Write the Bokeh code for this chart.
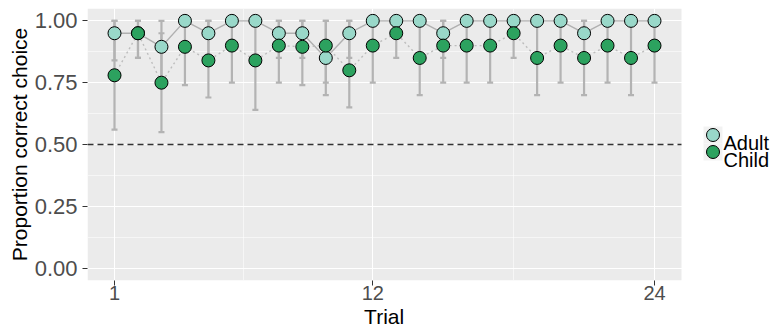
from bokeh.plotting import figure
from bokeh.models import (Range1d, FixedTicker, ColumnDataSource, NumeralTickFormatter,
                          BoxAnnotation, Title)
from bokeh.core.properties import value
from bokeh.embed import file_html
from bokeh.resources import INLINE

# ---- data ----
trials = [1, 2, 3, 4, 5, 6, 7, 8, 9, 10, 11, 12, 13, 14, 15, 16, 17, 18, 19, 20, 21, 22, 23, 24]
adult_mean = [0.95, 0.95, 0.895, 1.0, 0.95, 1.0, 1.0, 0.95, 0.95, 0.85, 0.95, 1.0,
              1.0, 1.0, 0.95, 1.0, 1.0, 1.0, 1.0, 1.0, 0.95, 1.0, 1.0, 1.0]
adult_lo = [0.84, 0.85, 0.74, 1.0, 0.85, 1.0, 1.0, 0.85, 0.85, 0.70, 0.85, 1.0,
            1.0, 1.0, 0.85, 1.0, 1.0, 1.0, 1.0, 1.0, 0.85, 1.0, 1.0, 1.0]
adult_hi = [1.0, 1.0, 1.0, 1.0, 1.0, 1.0, 1.0, 1.0, 1.0, 1.0, 1.0, 1.0,
            1.0, 1.0, 1.0, 1.0, 1.0, 1.0, 1.0, 1.0, 1.0, 1.0, 1.0, 1.0]
child_mean = [0.78, 0.95, 0.75, 0.895, 0.84, 0.90, 0.84, 0.90, 0.895, 0.90, 0.80, 0.90,
              0.95, 0.85, 0.90, 0.90, 0.90, 0.95, 0.85, 0.90, 0.85, 0.90, 0.85, 0.90]
child_lo = [0.56, 0.85, 0.55, 0.74, 0.69, 0.75, 0.64, 0.75, 0.74, 0.75, 0.65, 0.75,
            0.85, 0.70, 0.75, 0.75, 0.75, 0.85, 0.70, 0.75, 0.70, 0.75, 0.70, 0.75]
child_hi = [1.0, 1.0, 0.95, 1.0, 1.0, 1.0, 1.0, 1.0, 1.0, 1.0, 1.0, 1.0,
            1.0, 1.0, 1.0, 1.0, 1.0, 1.0, 1.0, 1.0, 1.0, 1.0, 1.0, 1.0]
x_ticks = [1, 12, 24]
x_minor = [6.5, 18]
y_ticks = [0.0, 0.25, 0.5, 0.75, 1.0]
y_minor = [0.125, 0.375, 0.625, 0.875]
chance = 0.5
group_labels = ["Adult", "Child"]
group_colors = ["#99d8c9", "#2ca25f"]
x_title = "Trial"
y_title = "Proportion correct choice"

FONT = "Liberation Sans"

# ---- layout (pixels) ----
W, H = 778, 327
FX0, PX1, FY0, FY1 = 87, 681, 8, 280        # frame left, panel right, frame top, frame bottom
x_lo, x_hi = -0.15, 25.15                    # panel data extent (ggplot-like expansion)
y_lo, y_hi = -0.05, 1.05
x_end = x_hi + (W - PX1) * (x_hi - x_lo) / (PX1 - FX0)   # frame extends right to hold the legend


def px_to_x(px):
    return x_lo + (px - FX0) * (x_hi - x_lo) / (PX1 - FX0)


def py_to_y(py):
    return y_hi - (py - FY0) * (y_hi - y_lo) / (FY1 - FY0)


p = figure(width=W, height=H,
           x_range=Range1d(x_lo, x_end), y_range=Range1d(y_lo, y_hi),
           output_backend="svg", toolbar_location=None,
           min_border_left=FX0, min_border_right=0, min_border_top=FY0,
           min_border_bottom=H - FY1)
p.background_fill_color = "white"
p.border_fill_color = "white"
p.outline_line_color = None

# grey panel
p.add_layout(BoxAnnotation(right=x_hi, fill_color="#ebebeb", fill_alpha=1,
                           line_color=None, level="image"))

# grid
p.xgrid.ticker = FixedTicker(ticks=x_ticks, minor_ticks=x_minor)
p.ygrid.ticker = FixedTicker(ticks=y_ticks, minor_ticks=y_minor)
for g in (p.xgrid, p.ygrid):
    g.grid_line_color = "white"
    g.grid_line_width = 1.1
    g.minor_grid_line_color = "white"
    g.minor_grid_line_width = 0.55

# axes
p.xaxis.ticker = FixedTicker(ticks=x_ticks)
p.xaxis.bounds = (x_lo, x_hi)
p.yaxis.ticker = FixedTicker(ticks=y_ticks)
p.yaxis.formatter = NumeralTickFormatter(format="0.00")
for ax in (p.xaxis, p.yaxis):
    ax.axis_line_color = None
    ax.minor_tick_line_color = None
    ax.major_tick_in = 0
    ax.major_tick_out = 5
    ax.major_tick_line_color = "#333333"
    ax.major_tick_line_width = 1
    ax.major_label_text_color = "#4d4d4d"
    ax.major_label_text_font = FONT
    ax.axis_label_text_font = FONT
    ax.axis_label_text_font_style = "normal"
    ax.axis_label_text_color = "black"
p.yaxis.axis_label = y_title
p.xaxis.major_label_text_font_size = "20px"
p.yaxis.major_label_text_font_size = "22px"
p.yaxis.axis_label_text_font_size = "21px"
p.xaxis.major_label_text_line_height = 1.0
p.xaxis.major_label_standoff = 0
p.yaxis.major_label_standoff = 5
p.yaxis.axis_label_standoff = 1

# x-axis title centred under the grey panel (not under the legend column)
TITLE_PX = 21
title_w = 1.944 * TITLE_PX            # approx. advance width of "Trial" in Liberation Sans
p.add_layout(Title(text=x_title, align="left",
                   offset=(FX0 + PX1) / 2 - FX0 - title_w / 2,
                   text_font=FONT, text_font_size=f"{TITLE_PX}px", text_font_style="normal",
                   text_color="black", standoff=0, text_line_height=1.0), "below")

src_a = ColumnDataSource(dict(trial=trials, mean=adult_mean, lo=adult_lo, hi=adult_hi))
src_c = ColumnDataSource(dict(trial=trials, mean=child_mean, lo=child_lo, hi=child_hi))

# connecting lines
p.line("trial", "mean", source=src_a, line_color="#b0b0b0", line_width=1.4)
p.line("trial", "mean", source=src_c, line_color="#bdbdbd", line_width=1.4, line_dash="2 3")

# error bars
EB = "#b3b3b3"
for s in (src_a, src_c):
    p.segment(x0="trial", y0="lo", x1="trial", y1="hi", source=s, line_color=EB, line_width=2.2)
    p.scatter("trial", "lo", source=s, marker="dash", size=6, line_color=EB, line_width=2.2)
    p.scatter("trial", "hi", source=s, marker="dash", size=6, line_color=EB, line_width=2.2)

# chance line across the panel
p.segment(x0=[x_lo], x1=[x_hi], y0=[chance], y1=[chance],
          line_color="#333333", line_width=1.3, line_dash="6 4")

p.scatter("trial", "mean", source=src_a, marker="circle", size=13,
          fill_color=group_colors[0], line_color="black", line_width=1)
p.scatter("trial", "mean", source=src_c, marker="circle", size=13,
          fill_color=group_colors[1], line_color="black", line_width=1)

# ---- legend (right of the panel) ----
key_x = [px_to_x(712.5)] * 2
key_y = [py_to_y(134.5), py_to_y(151.5)]
txt_x = [px_to_x(723)] * 2
txt_y = [py_to_y(142), py_to_y(159)]
p.rect(x=key_x, y=key_y, width=19, height=17, width_units="screen", height_units="screen",
       fill_color="#f2f2f2", line_color=None, level="overlay")
p.scatter(x=key_x, y=key_y, marker="circle", size=13, fill_color=group_colors,
          line_color="black", line_width=1, level="overlay")
p.text(x=txt_x, y=txt_y, text=group_labels, text_font=value(FONT), text_font_size="20px",
       text_color="black", text_baseline="alphabetic", text_align="left", level="overlay")

open("out.html", "w").write(file_html(p, INLINE))
